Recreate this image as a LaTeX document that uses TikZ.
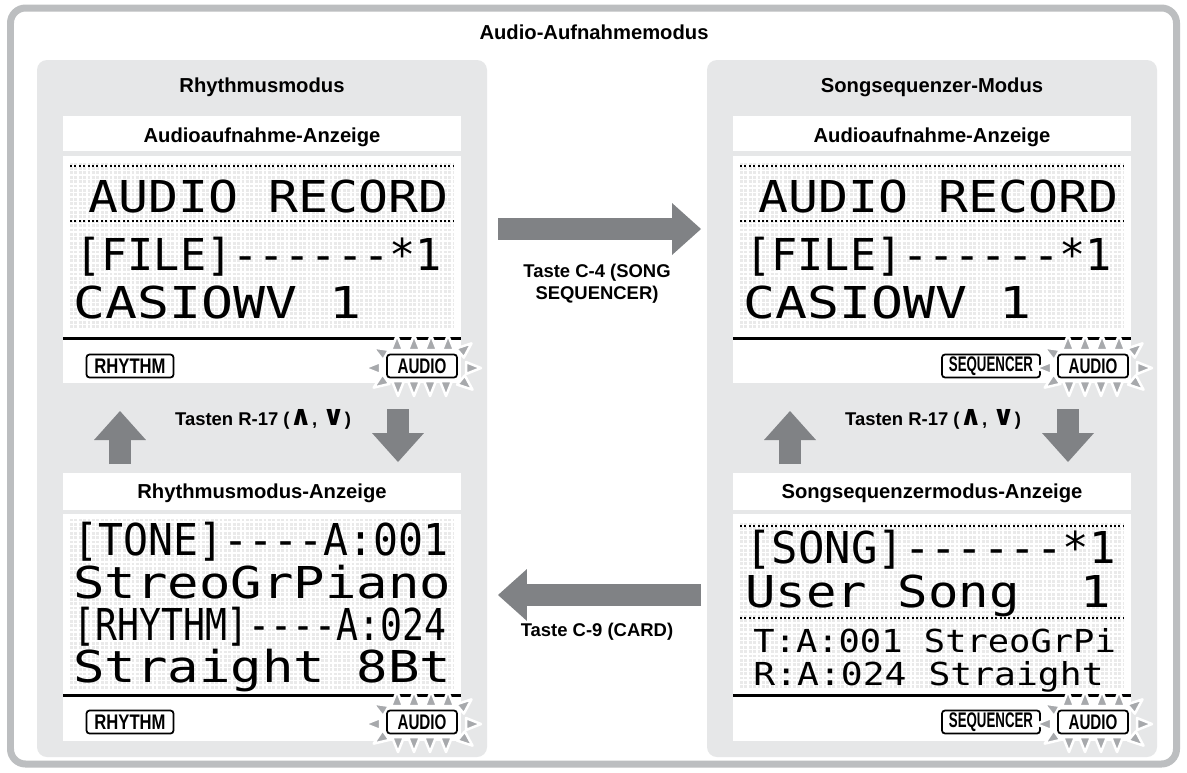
\documentclass[tikz,border=0pt]{standalone}
\usepackage{fontspec}
\usepackage{graphicx}
\setmainfont{Liberation Sans}
\newfontfamily\lcdfont{DejaVu Sans Mono}
\newfontfamily\symfont{DejaVu Sans}
\usetikzlibrary{arrows.meta}
\definecolor{framegray}{HTML}{BCBEC0}
\definecolor{panelgray}{HTML}{E6E7E8}
\definecolor{arrowgray}{HTML}{808285}
\definecolor{raygray}{HTML}{A7A9AC}
\definecolor{dotgray}{HTML}{EAEAEA}
\tikzset{
    outer frame/.style={draw=framegray, line width=0.14cm, rounded corners=0.3cm},
    panel/.style={fill=panelgray, rounded corners=0.2cm},
    white box/.style={fill=white},
    heading/.style={font=\fontsize{11.5}{13}\selectfont\bfseries, anchor=base},
    key label/.style={font=\fontsize{10.5}{12.6}\selectfont\bfseries, align=center},
    block arrow/.style={
        arrowgray, line width=0.44cm,
        -{Triangle[width=1.04cm,length=0.58cm,line width=0pt]}
    },
    lcd grid/.style={dotgray, line width=0.056cm, dash pattern=on 0.056cm off 0.032cm},
    lcd rule/.style={black, line width=0.04cm, dash pattern=on 0.04cm off 0.048cm},
    lcd base/.style={black, line width=0.06cm},
    lcd big/.style={anchor=base west, inner sep=0pt, font=\fontsize{25}{26}\lcdfont},
    lcd small/.style={anchor=base west, inner sep=0pt, font=\fontsize{18}{19}\lcdfont},
    mode tag/.style={
        draw, line width=0.035cm, rounded corners=0.06cm, fill=white,
        inner sep=0pt, minimum height=0.46cm,
        font=\fontsize{12}{12}\selectfont\bfseries
    },
    glow ray/.style={fill=raygray, draw=white, line width=0.05cm, line join=round}
}
% dot matrix background: x1, x2, top y, last row index
\newcommand{\LcdGrid}[4]{%
    \foreach \gi in {0,...,#4}{\draw[lcd grid] (#1,#3+4.4*\gi) -- (#2,#3+4.4*\gi);}%
}
% rays round the lit AUDIO tag
\newcommand{\AudioGlow}[2]{%
\begin{scope}[shift={(#1,#2)}]
    \foreach \rx/\ry/\ra in {-25/-16/-90,-8/-16/-90,9/-16/-90,26/-16/-90,
                             -24/15/90,-8/15/90,8/15/90,24/15/90,
                             -42/2/180,44/2/0,-36/-11/-150,-36/13/145,
                             38/-13/-40,39/14/40}
        \draw[glow ray] ([shift={(\ra+90:6)}]\rx,\ry)
            -- ([shift={(\ra:15)}]\rx,\ry)
            -- ([shift={(\ra-90:6)}]\rx,\ry) -- cycle;
\end{scope}%
}

\begin{document}
\begin{tikzpicture}[x=0.02cm,y=-0.02cm]
    \useasboundingbox (0,0) rectangle (1187,772);
    \fill[white] (0,0) rectangle (1187,772);

    \draw[outer frame] (10.5,8) rectangle (1176.5,764);
    \node[heading] (title) at (594,39) {Audio-Aufnahmemodus};

    \fill[panel] (37,60) rectangle (487,757);
    \fill[panel] (707,60) rectangle (1157,757);
    \node[heading] (rhythm head) at (262,92) {Rhythmusmodus};
    \node[heading] (song head) at (932,92) {Songsequenzer-Modus};

    % record screens
    \foreach \xo in {0,670}{
        \fill[white box] (63+\xo,116) rectangle (461+\xo,151);
        \fill[white box] (63+\xo,156) rectangle (461+\xo,383);
        \LcdGrid{70+\xo}{453+\xo}{164}{37}
        \draw[lcd rule] (70+\xo,166) -- (453+\xo,166);
        \draw[lcd rule] (70+\xo,221) -- (453+\xo,221);
        \node[lcd big] at (88+\xo,212) {\scalebox{1.134}[1]{AUDIO RECORD}};
        \node[lcd big] at (75+\xo,270) {\scalebox{0.99}[1]{[FILE]------*1}};
        \node[lcd big] at (73+\xo,318) {\scalebox{1.21}[1]{CASIOWV 1}};
        \draw[lcd base] (63+\xo,338) -- (461+\xo,338);
    }
    \node[heading] (rec head a) at (262,142) {Audioaufnahme-Anzeige};
    \node[heading] (rec head b) at (932,142) {Audioaufnahme-Anzeige};

    % rhythm screen
    \fill[white box] (63,473) rectangle (461,510);
    \fill[white box] (63,514) rectangle (461,741);
    \LcdGrid{70}{453}{520}{38}
    \node[lcd big] (tone row) at (73,555) {\scalebox{0.945}[1]{[TONE]----A:001}};
    \node[lcd big] (tone name) at (73,598) {\scalebox{1.19}[1]{StreoGrPiano}};
    \node[lcd big] (rhythm row) at (73,640) {\scalebox{0.83}[1]{[RHYTHM]----A:024}};
    \node[lcd big] (rhythm name) at (73,682) {\scalebox{1.19}[1]{Straight 8Bt}};
    \draw[lcd base] (63,695) -- (461,695);
    \node[heading] (rhythm disp) at (262,498) {Rhythmusmodus-Anzeige};

    % song screen
    \fill[white box] (733,473) rectangle (1131,510);
    \fill[white box] (733,514) rectangle (1131,741);
    \LcdGrid{740}{1123}{524}{37}
    \draw[lcd rule] (740,526) -- (1123,526);
    \draw[lcd rule] (740,618) -- (1123,618);
    \node[lcd big] (song row) at (745,563) {\scalebox{1.0}[1]{[SONG]------*1}};
    \node[lcd big] (song name) at (745,607) {\scalebox{1.153}[1]{User Song~~1}};
    \node[lcd small] (tone short) at (753,652) {\scalebox{1.12}[1]{T:A:001 StreoGrPi}};
    \node[lcd small] (rhythm short) at (753,685) {\scalebox{1.15}[1]{R:A:024 Straight}};
    \draw[lcd base] (733,695) -- (1131,695);
    \node[heading] (song disp) at (932,498) {Songsequenzermodus-Anzeige};

    % mode tags
    \foreach \yo in {0,356}{
        \node[mode tag, minimum width=1.74cm] at (130,366+\yo) {\scalebox{0.79}[1]{RHYTHM}};
        \AudioGlow{422}{366+\yo}
        \node[mode tag, minimum width=1.4cm] at (422,366+\yo) {\scalebox{0.72}[1]{AUDIO}};
        \node[mode tag, minimum width=1.96cm] at (991,366+\yo) {\scalebox{0.63}[1]{SEQUENCER}};
        \AudioGlow{1093}{366+\yo}
        \node[mode tag, minimum width=1.4cm] at (1093,366+\yo) {\scalebox{0.72}[1]{AUDIO}};
    }

    % key arrows
    \coordinate (c4 tail) at (498,229);
    \coordinate (c4 tip) at (701,229);
    \coordinate (c9 tail) at (701,595);
    \coordinate (c9 tip) at (498,595);
    \draw[block arrow] (c4 tail) -- (c4 tip);
    \draw[block arrow] (c9 tail) -- (c9 tip);
    \node[key label] (c4 label) at (597,284) {Taste C-4 (SONG\\SEQUENCER)};
    \node[key label] (c9 label) at (597,632) {Taste C-9 (CARD)};

    \foreach \xo in {0,670}{
        \coordinate (down tail) at (398+\xo,409);
        \coordinate (down tip) at (398+\xo,462);
        \coordinate (up tail) at (120+\xo,464);
        \coordinate (up tip) at (120+\xo,411);
        \draw[block arrow] (down tail) -- (down tip);
        \draw[block arrow] (up tail) -- (up tip);
        \node[key label] at (263+\xo,419)
            {Tasten R-17 ({\symfont\scalebox{1.5}{∧}}, {\symfont\scalebox{1.5}{∨}})};
    }
\end{tikzpicture}
\end{document}
